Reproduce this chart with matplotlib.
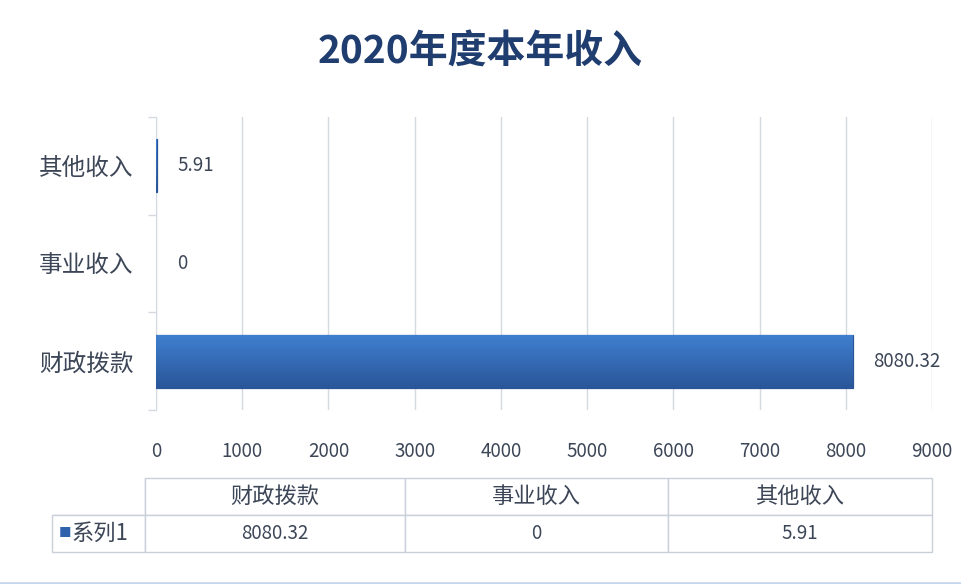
import numpy as np
import matplotlib.pyplot as plt
from matplotlib.lines import Line2D
from matplotlib.colors import LinearSegmentedColormap

plt.rcParams['font.family'] = ['Noto Sans CJK SC', 'DejaVu Sans']

# data
categories = ['财政拨款', '事业收入', '其他收入']
values = [8080.32, 0, 5.91]
value_labels = ['8080.32', '0', '5.91']
series_name = '系列1'
title = '2020年度本年收入'

text_col = '#3c4657'
grid_col = '#d5dae2'
bar_top = '#3f7fcf'
bar_bot = '#2a5699'

W, H = 961, 584
fig = plt.figure(figsize=(W / 100, H / 100), dpi=100)
fig.patch.set_facecolor('white')

ax = fig.add_axes([156 / W, 1 - 410 / H, (932 - 156) / W, (410 - 117) / H])
y = np.arange(len(categories))
bars = ax.barh(y, values, height=0.54, color=bar_bot, linewidth=0, zorder=3)
for b, v in zip(bars, values):
    if v > 0:
        b.set_edgecolor(bar_bot)
        b.set_linewidth(0.9)
ax.set_xlim(0, 9000)
ax.set_ylim(-0.5, len(categories) - 0.5)
ax.set_xticks(np.arange(0, 9001, 1000))
ax.set_yticks(y)
ax.set_yticklabels(categories, fontsize=17, color=text_col)
ax.set_yticks(np.arange(-0.5, len(categories), 1), minor=True)
ax.tick_params(axis='y', which='major', length=0, pad=16)
ax.tick_params(axis='y', which='minor', length=6, color=grid_col, width=1)
ax.tick_params(axis='x', length=0, pad=22, labelsize=13.5, labelcolor=text_col)
for s in ['top', 'right', 'bottom']:
    ax.spines[s].set_visible(False)
ax.spines['left'].set_color(grid_col)
ax.grid(axis='x', color=grid_col, linewidth=1, zorder=0)
ax.set_axisbelow(True)

# gradient fill on bars
grad = np.linspace(0, 1, 100).reshape(-1, 1)
cmap = LinearSegmentedColormap.from_list('g', [bar_top, bar_bot])
for b in bars:
    x0, y0 = b.get_x(), b.get_y()
    w, h = b.get_width(), b.get_height()
    if w <= 0:
        continue
    im = ax.imshow(grad, extent=[x0, x0 + w, y0, y0 + h], aspect='auto', cmap=cmap,
                   origin='upper', zorder=4)
    im.set_clip_path(b)
ax.set_xlim(0, 9000)
ax.set_ylim(-0.5, len(categories) - 0.5)

for b, lab in zip(bars, value_labels):
    ax.annotate(lab, (b.get_width(), b.get_y() + b.get_height() / 2),
                xytext=(15, 0), textcoords='offset points', va='center', ha='left',
                fontsize=13.5, color=text_col)

fig.text(0.5, 1 - 52 / H, title, ha='center', va='center', fontsize=28,
         fontweight='bold', color='#1f3d6e')

# data table under the chart
tax = fig.add_axes([52 / W, 1 - 552 / H, (932 - 52) / W, (552 - 478) / H])
tax.axis('off')
cell_text = [['', *categories], ['', *value_labels]]
widths = np.array([93, 260, 263, 264], dtype=float)
tbl = tax.table(cellText=cell_text, colWidths=list(widths / widths.sum()),
                cellLoc='center', bbox=[0, 0, 1, 1])
tbl.auto_set_font_size(False)
for (r, c), cell in tbl.get_celld().items():
    cell.set_edgecolor('#c9d0da')
    cell.set_linewidth(1)
    cell.get_text().set_color(text_col)
    cell.get_text().set_fontsize(16 if r == 0 else 13.5)
tbl[0, 0].visible_edges = 'BR'
tax.text(0.008, 0.25, '■', transform=tax.transAxes, ha='left', va='center',
         fontsize=9, color='#2f62ad')
tax.text(0.022, 0.25, series_name, transform=tax.transAxes, ha='left', va='center',
         fontsize=16, color=text_col)

fig.add_artist(Line2D([0, 1], [1.5 / H, 1.5 / H], color='#c6d8ec', linewidth=2))

fig.savefig('out.png', dpi=100)
